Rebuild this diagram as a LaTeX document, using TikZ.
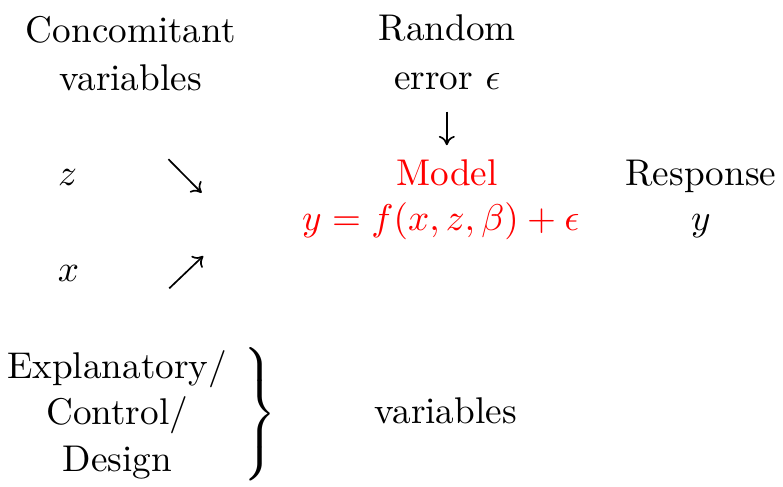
\documentclass[tikz,border=0pt]{standalone}
\usetikzlibrary{arrows.meta}

\begin{document}
\begin{tikzpicture}[
  x=1.0753pt, y=1.0753pt,
  font=\fontsize{10}{13}\selectfont,
  >={To[length=2.5pt,width=4.3pt]},
  label/.style={anchor=base, align=center, inner sep=0pt},
  model/.style={anchor=base, align=center, inner sep=0pt, text=red},
  arrow/.style={->, line width=0.45pt}
]
\useasboundingbox (0,0) rectangle (195.75,-121.5);

% Top row: headings (base = last line)
\node[label] (concomitant) at (32.7,-22.7) {Concomitant\\variables};
\node[label] (random) at (111.8,-22.3) {Random\\error $\epsilon$};

% Middle rows: variables, model and response
\node[label] (zvar) at (16.9,-46.25) {$z$};
\node[label] (xvar) at (17.1,-70.4) {$x$};
\node[model] (model) at (111.75,-46.4) {Model};
\node[model] (equation) at (110.2,-57.7) {$y=f(x,z,\beta)+\epsilon$};
\node[label] (response) at (175.2,-57.7) {Response\\[-0.86pt]$y$};

% Free-standing arrows
\coordinate (err_top) at (111.7,-27.9);
\coordinate (err_bot) at (111.7,-36.3);
\draw[arrow] (err_top) -- (err_bot);
\coordinate (z_from) at (42.1,-39.8);
\coordinate (z_to) at (50.4,-48.2);
\draw[arrow] (z_from) -- (z_to);
\coordinate (x_from) at (42.3,-72.1);
\coordinate (x_to) at (50.8,-64);
\draw[arrow] (x_from) -- (x_to);

% Bottom: grouped kinds of variables
\node[label] (explanatory) at (29.3,-117.9) {Explanatory/\\[-0.43pt]Control/\\[-0.43pt]Design};
\node[inner sep=0pt] (brace) at (64.4,-104)
  {$\left.\vrule width 0pt height 16.6pt depth 16.6pt\right\}$};
\node[label] (variables) at (111.45,-105.8) {variables};

\end{tikzpicture}
\end{document}
